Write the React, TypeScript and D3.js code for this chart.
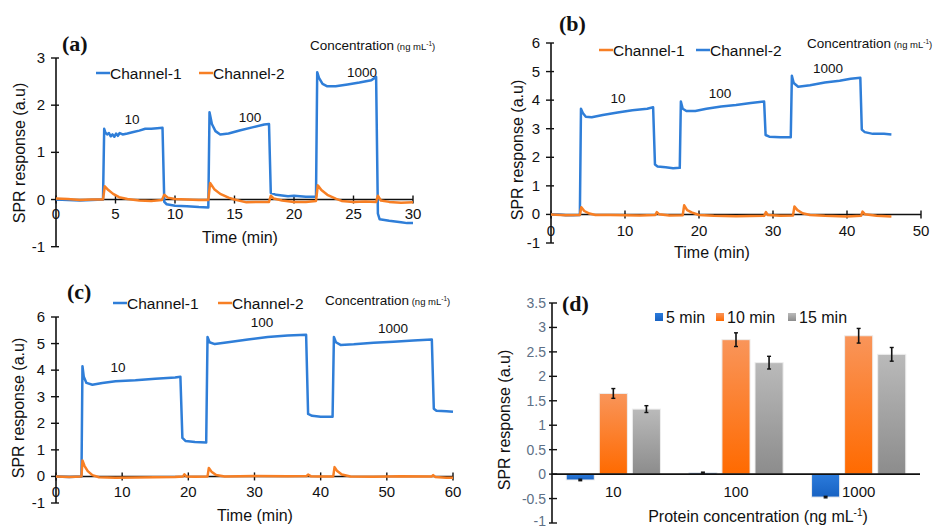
import React from 'react';
import * as d3 from 'd3';

type Pt = [number, number];

// ---------- Panel (a) ----------
const aTicksX = [0, 5, 10, 15, 20, 25, 30];
const aTicksY = [-1, 0, 1, 2, 3];
const aCh1: Pt[] = [[0,0],[1,-0.01],[2,-0.02],[3,-0.01],[3.95,0],[4.05,1.5],[4.15,1.42],[4.3,1.38],[4.45,1.41],[4.6,1.34],[4.75,1.38],[4.9,1.33],[5.05,1.4],[5.2,1.35],[5.35,1.41],[5.6,1.38],[6,1.4],[6.5,1.43],[7,1.46],[7.5,1.5],[8,1.5],[8.5,1.51],[8.95,1.52],[9.1,-0.05],[9.3,-0.1],[10,-0.13],[11,-0.14],[12,-0.16],[12.8,-0.17],[12.9,1.85],[13.1,1.6],[13.4,1.45],[13.8,1.38],[14.5,1.4],[15.5,1.47],[16.5,1.53],[17.5,1.59],[17.9,1.6],[18.05,0.14],[18.5,0.1],[19.5,0.07],[20,0.08],[21,0.06],[21.85,0.06],[21.95,2.7],[22.1,2.58],[22.4,2.45],[22.8,2.4],[23.5,2.4],[24.5,2.44],[25.5,2.48],[26.5,2.53],[26.9,2.6],[27.05,-0.3],[27.2,-0.42],[28,-0.45],[29,-0.48],[29.5,-0.5],[30,-0.5]];
const aCh2: Pt[] = [[0,0.02],[1,0.01],[2,-0.01],[3,0],[3.95,0],[4.1,0.28],[4.4,0.2],[4.8,0.12],[5.3,0.05],[6,0.01],[7,-0.02],[8,-0.03],[8.9,-0.01],[9.1,0.1],[9.4,0.04],[10,0.01],[11,0],[12,-0.01],[12.8,-0.01],[12.95,0.35],[13.3,0.22],[13.8,0.12],[14.5,0.04],[15,0],[16,-0.06],[17,-0.05],[17.9,-0.05],[18.05,0.08],[18.3,0.02],[19,-0.02],[20,-0.05],[21,-0.05],[21.85,-0.03],[22,0.3],[22.3,0.2],[22.8,0.1],[23.5,0.02],[24,-0.03],[25,-0.05],[26,-0.04],[26.9,-0.05],[27.05,0.08],[27.3,-0.02],[28,-0.05],[29,-0.07],[30,-0.06]];

// ---------- Panel (b) ----------
const bTicksX = [0, 10, 20, 30, 40, 50];
const bTicksY = [-1, 0, 1, 2, 3, 4, 5, 6];
const bCh2: Pt[] = [[0,0],[1,0],[2,-0.03],[3,-0.03],[3.9,-0.02],[4.05,3.7],[4.3,3.55],[4.7,3.42],[5.5,3.4],[7,3.48],[9,3.57],[11,3.65],[13,3.7],[13.8,3.75],[14.05,1.75],[14.4,1.68],[15.5,1.65],[16.5,1.62],[17.4,1.63],[17.55,3.95],[17.8,3.7],[18.3,3.62],[19.5,3.62],[21,3.7],[23,3.78],[25,3.83],[27,3.9],[28.8,3.95],[29,2.78],[29.5,2.72],[31,2.7],[32.4,2.7],[32.55,4.85],[32.8,4.6],[33.4,4.47],[35,4.52],[37,4.62],[39,4.68],[40.5,4.75],[41.8,4.78],[42,2.97],[42.4,2.88],[43.5,2.82],[45,2.82],[46,2.8]];
const bCh1: Pt[] = [[0,0],[2,-0.03],[3.9,-0.02],[4.1,0.25],[4.5,0.12],[5.2,0.03],[6,-0.02],[8,-0.02],[10,-0.03],[12,-0.04],[14.1,-0.02],[14.3,0.08],[14.6,0.01],[16,-0.04],[17.8,-0.03],[18,0.32],[18.4,0.15],[19,0.07],[20,-0.02],[22,-0.05],[25,-0.06],[28.8,-0.05],[29.05,0.08],[29.3,-0.02],[31,-0.05],[32.7,-0.04],[32.9,0.28],[33.3,0.15],[34,0.04],[35,-0.02],[37,-0.05],[40,-0.07],[41.9,-0.05],[42.1,0.1],[42.4,0.01],[44,-0.05],[46,-0.07]];

// ---------- Panel (c) ----------
const cTicksX = [0, 10, 20, 30, 40, 50, 60];
const cTicksY = [-1, 0, 1, 2, 3, 4, 5, 6];
const cCh1: Pt[] = [[0,0],[2,-0.02],[3.85,0],[4,4.15],[4.2,3.75],[4.6,3.52],[5.5,3.45],[7,3.52],[9,3.58],[12,3.62],[15,3.68],[18,3.72],[18.8,3.75],[19.1,1.45],[19.6,1.33],[21,1.3],[22.7,1.28],[22.9,5.25],[23.2,5.05],[24,4.98],[26,5.05],[29,5.15],[32,5.25],[35,5.3],[37.8,5.33],[38.1,2.35],[38.7,2.28],[40,2.25],[41.8,2.25],[42,5.25],[42.3,5.05],[43,4.95],[45,4.97],[48,5.03],[51,5.07],[54,5.12],[56.8,5.15],[57.1,2.55],[57.5,2.47],[59,2.45],[60,2.43]];
const cCh2: Pt[] = [[0,0],[2,-0.02],[3.85,0],[4,0.6],[4.3,0.4],[4.8,0.2],[5.5,0.05],[6.5,-0.03],[9,-0.05],[12,-0.04],[15,-0.03],[18,-0.02],[19.2,0],[19.4,0.08],[19.7,0],[21,-0.01],[22.9,0],[23.1,0.32],[23.5,0.18],[24.2,0.05],[25.5,0],[30,0.02],[35,0.01],[37.9,0.02],[38.1,0.07],[38.5,0.01],[40,0],[41.9,0],[42.1,0.35],[42.5,0.2],[43.2,0.07],[44.5,0],[48,-0.01],[52,0.01],[56.8,0],[57,0.05],[57.3,-0.02],[59,-0.05],[60,-0.05]];

const concLabels = ['10', '100', '1000'];

// ---------- Panel (d) ----------
const dCategories = ['10', '100', '1000'];
const dSeries = ['5 min', '10 min', '15 min'];
const d5min = [-0.12, 0.03, -0.47];
const d10min = [1.65, 2.75, 2.83];
const d15min = [1.33, 2.28, 2.45];
const d5err = [0.015, 0.01, 0.015];
const d10err = [0.1, 0.14, 0.15];
const d15err = [0.07, 0.13, 0.14];
const dTicksY = [-1, -0.5, 0, 0.5, 1, 1.5, 2, 2.5, 3, 3.5];

const BLUE = '#2f7ed8';
const ORANGE = '#f77f24';
const FONT = "'Liberation Sans', Arial, sans-serif";
const SERIF = "'Liberation Serif', 'Times New Roman', serif";

type Series = { data: Pt[]; color: string; name: string };
type LegendItem = { x: number; y: number; color: string; name: string };
type LineCfg = {
  key: string; tag: string; tagX: number; tagY: number;
  x0: number; x1: number; yTop: number; yBot: number;
  xDomain: [number, number]; yDomain: [number, number];
  ticksX: number[]; ticksY: number[]; xLabelDy: number;
  series: Series[]; legend: LegendItem[];
  concX: number; concY: number;
  notes: { x: number; y: number }[];
  xTitle: [number, number]; yTitle: [number, number];
};

function Conc({ x, y }: { x: number; y: number }) {
  return (
    <text x={x} y={y} fontFamily={FONT} fontSize={13.5} fill="#111">
      Concentration
      <tspan fontSize={9.5}> (ng mL</tspan>
      <tspan fontSize={6.5} dy={-4}>-1</tspan>
      <tspan fontSize={9.5} dy={4}>)</tspan>
    </text>
  );
}

function LinePanel({ c }: { c: LineCfg }) {
  const x = d3.scaleLinear().domain(c.xDomain).range([c.x0, c.x1]);
  const y = d3.scaleLinear().domain(c.yDomain).range([c.yBot, c.yTop]);
  const line = d3.line<Pt>().x(d => x(d[0])).y(d => y(d[1]));
  const y0 = y(0);
  return (
    <g>
      <line x1={c.x0} x2={c.x0} y1={y(c.yDomain[1])} y2={y(c.yDomain[0])} stroke="#111" strokeWidth={1.6} />
      {c.ticksY.map(t => (
        <g key={'y' + t}>
          <line x1={c.x0 - 5} x2={c.x0 + 3} y1={y(t)} y2={y(t)} stroke="#111" strokeWidth={1.4} />
          <text x={c.x0 - 11} y={y(t) + 5} textAnchor="end" fontFamily={FONT} fontSize={15} fill="#111">{t}</text>
        </g>
      ))}
      <line x1={c.x0} x2={c.x1} y1={y0} y2={y0} stroke="#111" strokeWidth={1.6} />
      {c.ticksX.map(t => (
        <g key={'x' + t}>
          <line x1={x(t)} x2={x(t)} y1={y0 - 4} y2={y0 + 4} stroke="#111" strokeWidth={1.4} />
          <text x={x(t)} y={y0 + c.xLabelDy} textAnchor="middle" fontFamily={FONT} fontSize={15} fill="#111">{t}</text>
        </g>
      ))}
      {c.series.map(s => (
        <path key={s.name} d={line(s.data) || ''} fill="none" stroke={s.color} strokeWidth={2.5} strokeLinejoin="round" />
      ))}
      {c.legend.map(l => (
        <g key={l.name}>
          <line x1={l.x} x2={l.x + 14} y1={l.y} y2={l.y} stroke={l.color} strokeWidth={2.5} />
          <text x={l.x + 14} y={l.y + 5.5} fontFamily={FONT} fontSize={15.5} fill="#111">{l.name}</text>
        </g>
      ))}
      {c.notes.map((n, i) => (
        <text key={'n' + i} x={n.x} y={n.y + 4.5} textAnchor="middle" fontFamily={FONT} fontSize={13.5} fill="#111">{concLabels[i]}</text>
      ))}
      <Conc x={c.concX} y={c.concY} />
      <text x={c.tagX} y={c.tagY} fontFamily={SERIF} fontWeight="bold" fontSize={22} fill="#111">{c.tag}</text>
      <text x={c.xTitle[0]} y={c.xTitle[1]} textAnchor="middle" fontFamily={FONT} fontSize={16} fill="#111">Time (min)</text>
      <text transform={`translate(${c.yTitle[0]},${c.yTitle[1]}) rotate(-90)`} textAnchor="middle" dy={5} fontFamily={FONT} fontSize={16} fill="#111">SPR response (a.u)</text>
    </g>
  );
}

const panels: LineCfg[] = [
  {
    key: 'a', tag: '(a)', tagX: 62, tagY: 51,
    x0: 56, x1: 413, yTop: 58, yBot: 246.7, xDomain: [0, 30], yDomain: [-1, 3],
    ticksX: aTicksX, ticksY: aTicksY, xLabelDy: 19,
    series: [{ data: aCh1, color: BLUE, name: 'Channel-1' }, { data: aCh2, color: ORANGE, name: 'Channel-2' }],
    legend: [{ x: 96, y: 73, color: BLUE, name: 'Channel-1' }, { x: 199, y: 73, color: ORANGE, name: 'Channel-2' }],
    concX: 310, concY: 50,
    notes: [{ x: 132, y: 119 }, { x: 250, y: 117 }, { x: 362, y: 72 }],
    xTitle: [240, 243], yTitle: [20, 153],
  },
  {
    key: 'b', tag: '(b)', tagX: 559, tagY: 31,
    x0: 551, x1: 921, yTop: 43, yBot: 243, xDomain: [0, 50], yDomain: [-1, 6],
    ticksX: bTicksX, ticksY: bTicksY, xLabelDy: 22,
    series: [{ data: bCh2, color: BLUE, name: 'Channel-2' }, { data: bCh1, color: ORANGE, name: 'Channel-1' }],
    legend: [{ x: 599, y: 50, color: ORANGE, name: 'Channel-1' }, { x: 696, y: 50, color: BLUE, name: 'Channel-2' }],
    concX: 807, concY: 48,
    notes: [{ x: 618, y: 98 }, { x: 720, y: 93 }, { x: 828, y: 68 }],
    xTitle: [712, 258], yTitle: [518, 150],
  },
  {
    key: 'c', tag: '(c)', tagX: 67, tagY: 299,
    x0: 56, x1: 453, yTop: 317, yBot: 503, xDomain: [0, 60], yDomain: [-1, 6],
    ticksX: cTicksX, ticksY: cTicksY, xLabelDy: 21,
    series: [{ data: cCh1, color: BLUE, name: 'Channel-1' }, { data: cCh2, color: ORANGE, name: 'Channel-2' }],
    legend: [{ x: 113, y: 303, color: BLUE, name: 'Channel-1' }, { x: 218, y: 303, color: ORANGE, name: 'Channel-2' }],
    concX: 325, concY: 305,
    notes: [{ x: 118, y: 367 }, { x: 262, y: 322 }, { x: 393, y: 328 }],
    xTitle: [255, 521], yTitle: [19, 408],
  },
];

const dValues = [d5min, d10min, d15min];
const dErrors = [d5err, d10err, d15err];
const dGrad = [
  ['#2b7bdc', '#1862c2'],
  ['#f9955a', '#ff6a00'],
  ['#bababa', '#8c8c8c'],
];

function BarPanel() {
  const x0 = 552, x1 = 920, yTop = 303, yBot = 523;
  const y = d3.scaleLinear().domain([-1, 3.5]).range([yBot, yTop]);
  const xg = d3.scaleBand<string>().domain(dCategories).range([x0, x1]);
  const xs = d3.scaleBand<string>().domain(dSeries).range([0, xg.bandwidth()]).paddingInner(0.15).paddingOuter(0.43);
  const y0 = y(0);
  const lx = [655, 716, 788];
  return (
    <g>
      <defs>
        {dGrad.map((g, i) => (
          <linearGradient key={i} id={'dg' + i} x1="0" y1="0" x2="0" y2="1">
            <stop offset="0%" stopColor={g[0]} />
            <stop offset="100%" stopColor={g[1]} />
          </linearGradient>
        ))}
      </defs>
      <line x1={x0} x2={x0} y1={yTop} y2={yBot} stroke="#111" strokeWidth={1.6} />
      {dTicksY.map(t => (
        <g key={t}>
          <line x1={x0 - 3} x2={x0 + 5} y1={y(t)} y2={y(t)} stroke="#111" strokeWidth={1.4} />
          <text x={x0 - 6} y={Math.min(y(t) + 5, 526)} textAnchor="end" fontFamily={FONT} fontSize={14} fill="#5d6f86">{t}</text>
        </g>
      ))}
      {dCategories.map((cat, ci) => (
        <g key={cat}>
          {dSeries.map((s, si) => {
            const v = dValues[si][ci];
            const e = dErrors[si][ci];
            const bx = (xg(cat) || 0) + (xs(s) || 0);
            const bw = xs.bandwidth();
            const top = Math.min(y(v), y0);
            const h = Math.abs(y(v) - y0);
            const cx = bx + bw / 2;
            return (
              <g key={s}>
                <rect x={bx} y={top} width={bw} height={h} fill={`url(#dg${si})`} stroke="#eeeeee" strokeWidth={1} />
                <line x1={cx} x2={cx} y1={y(v + e)} y2={y(v - e)} stroke="#111" strokeWidth={1.6} />
                <line x1={cx - 2} x2={cx + 2} y1={y(v + e)} y2={y(v + e)} stroke="#111" strokeWidth={1.4} />
                <line x1={cx - 2} x2={cx + 2} y1={y(v - e)} y2={y(v - e)} stroke="#111" strokeWidth={1.4} />
              </g>
            );
          })}
          <text x={(xg(cat) || 0) + xg.bandwidth() / 2} y={y0 + 23} textAnchor="middle" fontFamily={FONT} fontSize={15} fill="#111">{cat}</text>
        </g>
      ))}
      <line x1={x0} x2={x1} y1={y0} y2={y0} stroke="#111" strokeWidth={1.6} />
      {dSeries.map((s, si) => (
        <g key={'lg' + s}>
          <rect x={lx[si]} y={313} width={8} height={8} fill={`url(#dg${si})`} />
          <text x={lx[si] + 11} y={323} fontFamily={FONT} fontSize={16} fill="#111">{s}</text>
        </g>
      ))}
      <text x={562} y={311} fontFamily={SERIF} fontWeight="bold" fontSize={22} fill="#111">(d)</text>
      <text x={758} y={522} textAnchor="middle" fontFamily={FONT} fontSize={16} fill="#111">
        Protein concentration (ng mL<tspan fontSize={10} dy={-6}>-1</tspan><tspan dy={6}>)</tspan>
      </text>
      <text transform="translate(505,420) rotate(-90)" textAnchor="middle" dy={5} fontFamily={FONT} fontSize={16} fill="#111">SPR response (a.u)</text>
    </g>
  );
}

export default function App() {
  return (
    <svg width={950} height={529} style={{ position: 'absolute', left: 0, top: 0, background: '#fff' }}>
      <rect width={950} height={529} fill="#fff" />
      {panels.map(p => <LinePanel key={p.key} c={p} />)}
      <BarPanel />
    </svg>
  );
}
